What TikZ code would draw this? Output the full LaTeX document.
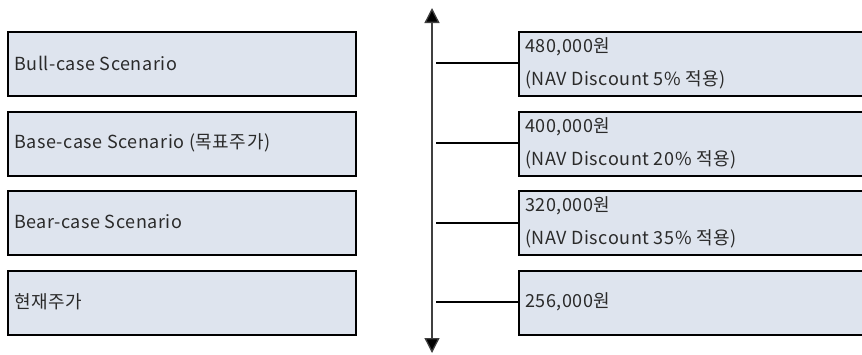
\documentclass[tikz,border=0pt]{standalone}
\usepackage{fontspec}
\setmainfont[LetterSpace=3]{Noto Sans CJK KR}
\usetikzlibrary{arrows.meta}
\definecolor{boxfill}{HTML}{DEE4EE}
\definecolor{txt}{HTML}{2A2A2A}
\tikzset{
  scen/.style={draw=black, line width=1.8pt, fill=boxfill, anchor=north west, minimum width=348pt, minimum height=64pt, inner sep=0pt},
  lab/.style={anchor=west, text=txt, font=\fontsize{18pt}{21pt}\selectfont, inner sep=0pt},
  conn/.style={draw=black, line width=1.8pt},
}
\begin{document}
\begin{tikzpicture}[x=1pt,y=-1pt]
\useasboundingbox (0,0) rectangle (862,354);
\begin{scope}
\clip (0,0) rectangle (862,354);
% left boxes
\node[scen] (l1) at (7,31) {};
\node[scen] (l2) at (7,111) {};
\node[scen] (l3) at (7,190) {};
\node[scen] (l4) at (7,270) {};
\node[lab] (t1) at (14,63) {Bull-case Scenario};
\node[lab] (t2) at (14,143) {Base-case Scenario (목표주가)};
\node[lab] (t3) at (14,222) {Bear-case Scenario};
\node[lab] (t4) at (14,302) {현재주가};
% right boxes
\node[scen, minimum width=360pt] (r1) at (518,31) {};
\node[scen, minimum width=360pt] (r2) at (518,111) {};
\node[scen, minimum width=360pt] (r3) at (518,190) {};
\node[scen, minimum width=360pt] (r4) at (518,270) {};
\node[lab] (v1a) at (525,47) {480,000원};
\node[lab] (v1b) at (525,80) {(NAV Discount 5\% 적용)};
\node[lab] (v2a) at (525,127) {400,000원};
\node[lab] (v2b) at (525,160) {(NAV Discount 20\% 적용)};
\node[lab] (v3a) at (525,206) {320,000원};
\node[lab] (v3b) at (525,239) {(NAV Discount 35\% 적용)};
\node[lab] (v4) at (525,302) {256,000원};
\end{scope}
% axis
\coordinate (top) at (432,8);
\coordinate (bot) at (432,353);
\draw[line width=1.3pt, draw=black!75, {Triangle[length=15pt,width=15pt,fill=black]}-{Triangle[length=15pt,width=15pt,fill=black]}] (top) -- (bot);
\coordinate (c1) at (436,63);
\coordinate (c2) at (436,143);
\coordinate (c3) at (436,223);
\coordinate (c4) at (436,302);
\draw[conn] (c1) -- (r1.west |- c1);
\draw[conn] (c2) -- (r2.west |- c2);
\draw[conn] (c3) -- (r3.west |- c3);
\draw[conn] (c4) -- (r4.west |- c4);
\end{tikzpicture}
\end{document}
